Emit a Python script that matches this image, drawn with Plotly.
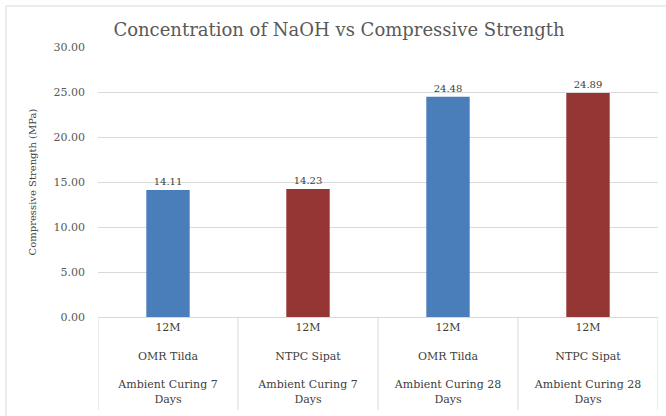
import plotly.graph_objects as go

concentration = ["12M", "12M", "12M", "12M"]
source = ["OMR Tilda", "NTPC Sipat", "OMR Tilda", "NTPC Sipat"]
curing = ["Ambient Curing 7<br>Days", "Ambient Curing 7<br>Days",
          "Ambient Curing 28<br>Days", "Ambient Curing 28<br>Days"]
strength = [14.11, 14.23, 24.48, 24.89]
bar_colors = ["#4A7EBB", "#963634", "#4A7EBB", "#963634"]
y_ticks = [0, 5, 10, 15, 20, 25, 30]

labels = [f"{c}<br><br>{s}<br><br>{k}" for c, s, k in zip(concentration, source, curing)]
xs = list(range(len(labels)))

FONT = "DejaVu Serif"

fig = go.Figure()
fig.add_trace(go.Bar(
    x=xs, y=strength, width=0.31,
    marker=dict(color=bar_colors, line=dict(width=0)),
    text=[f"{v:.2f}" for v in strength], textposition="outside",
    textfont=dict(family=FONT, size=10, color="#404040"),
    cliponaxis=False, showlegend=False,
))

L, R, T, B = 98, 8, 47, 99
W, H = 666, 416
pw, ph = W - L - R, H - T - B

shapes = []
for i in range(len(labels) + 1):
    shapes.append(dict(type="line", xref="x", yref="paper",
                       x0=i - 0.5, x1=i - 0.5, y0=0, y1=-(H - T - ph - 6) / ph,
                       line=dict(color="#D9D9D9", width=1)))
# outer chart border
shapes.append(dict(type="rect", xref="paper", yref="paper",
                   x0=(6 - L) / pw, x1=(W + 2 - L) / pw,
                   y0=-(H + 2 - T - ph) / ph, y1=1 + (T - 6) / ph,
                   line=dict(color="#D9D9D9", width=1), layer="below"))

fig.update_layout(
    width=W, height=H,
    margin=dict(l=L, r=R, t=T, b=B),
    paper_bgcolor="white", plot_bgcolor="white",
    title=dict(text="Concentration of NaOH vs Compressive Strength",
               x=(339) / W, xanchor="center", y=1 - 30 / H, yanchor="middle",
               font=dict(family=FONT, size=18, color="#595959")),
    xaxis=dict(tickmode="array", tickvals=xs, ticktext=labels,
               range=[-0.5, len(labels) - 0.5],
               tickfont=dict(family=FONT, size=11, color="#404040"),
               showline=True, linecolor="#D9D9D9", linewidth=1,
               showgrid=False, zeroline=False, ticks=""),
    yaxis=dict(range=[0, 30], tickvals=y_ticks,
               ticktext=[f"{v:.2f}" for v in y_ticks],
               tickfont=dict(family=FONT, size=11, color="#595959"),
               gridcolor="#D9D9D9", gridwidth=1, zeroline=False,
               showline=False, ticks="", ticklabelstandoff=12,
               title=dict(text="Compressive Strength (MPa)", standoff=15,
                          font=dict(family=FONT, size=10, color="#404040"))),
    shapes=shapes,
    font=dict(family=FONT),
)

fig.write_html("out.html")
